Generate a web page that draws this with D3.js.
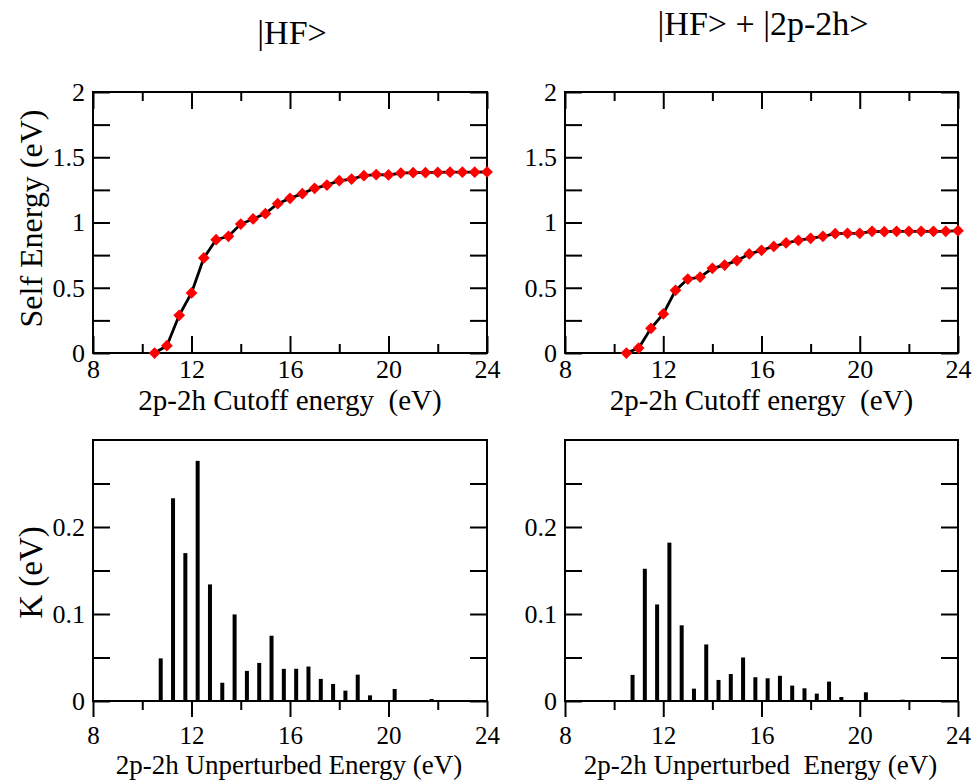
<!DOCTYPE html>
<html>
<head>
<meta charset="utf-8">
<script src="https://cdn.jsdelivr.net/npm/d3@7"></script>
<style>
  html, body { margin: 0; padding: 0; background: #fff; }
  svg { display: block; }
  svg text { font-family: "Liberation Serif", "Times New Roman", Times, "DejaVu Serif", serif !important; fill: #000; }
</style>
</head>
<body>
<svg id="chart" width="972" height="780" font-family="Liberation Serif, Times New Roman, serif"></svg>
<script>
// ---------------- data ----------------
const panelTitles = ["|HF>", "|HF> + |2p-2h>"];
const cutoffEnergy = [10.5, 11, 11.5, 12, 12.5, 13, 13.5, 14, 14.5, 15, 15.5, 16, 16.5, 17,
                      17.5, 18, 18.5, 19, 19.5, 20, 20.5, 21, 21.5, 22, 22.5, 23, 23.5, 24];
const selfEnergyHF = [0, 0.056, 0.289, 0.46, 0.728, 0.868, 0.894, 0.988, 1.027, 1.068, 1.144, 1.185,
                      1.221, 1.262, 1.287, 1.32, 1.333, 1.359, 1.367, 1.364, 1.379, 1.382, 1.382,
                      1.384, 1.386, 1.386, 1.386, 1.387];
const selfEnergyHF2p2h = [0, 0.038, 0.189, 0.299, 0.48, 0.567, 0.582, 0.649, 0.674, 0.708, 0.759, 0.787,
                          0.817, 0.843, 0.863, 0.879, 0.894, 0.914, 0.917, 0.917, 0.932, 0.930, 0.932,
                          0.932, 0.932, 0.932, 0.932, 0.937];
const unperturbedEnergy = [10.75, 11.25, 11.75, 12.25, 12.75, 13.25, 13.75, 14.25, 14.75, 15.25, 15.75, 16.25,
                           16.75, 17.25, 17.75, 18.25, 18.75, 19.25, 19.75, 20.25, 20.75, 21.25, 21.75, 22.25];
const kHF = [0.049, 0.233, 0.170, 0.276, 0.134, 0.021, 0.0995, 0.0346, 0.0438, 0.075, 0.037, 0.037,
             0.0396, 0.0254, 0.0196, 0.0119, 0.0303, 0.0065, 0, 0.0138, 0, 0, 0.0023, 0.0008];
const kHF2p2h = [0.030, 0.152, 0.111, 0.182, 0.087, 0.0142, 0.065, 0.0242, 0.031, 0.050, 0.0273, 0.0261,
                 0.029, 0.0177, 0.0146, 0.0085, 0.0223, 0.0046, 0, 0.0100, 0, 0, 0.0015, 0.0004];
const xMajorTicks = [8, 12, 16, 20, 24];
const xMinorTicks = [10, 14, 18, 22];
const seTicksMajor = [0, 0.5, 1, 1.5, 2];
const seTicksMinor = [0.25, 0.75, 1.25, 1.75];
const kTicksMajor = [0, 0.1, 0.2];
const kTicksMinor = [0.05, 0.15, 0.25];
const topXLabels = ["2p-2h Cutoff energy  (eV)", "2p-2h Cutoff energy  (eV)"];
const bottomXLabels = ["2p-2h Unperturbed Energy (eV)", "2p-2h Unperturbed  Energy (eV)"];
const topYLabel = "Self Energy (eV)";
const bottomYLabel = "K (eV)";

// ---------------- layout ----------------
const svg = d3.select("#chart");
const serif = "'Liberation Serif', 'Times New Roman', serif";
const cols = [{ x0: 93, x1: 487 }, { x0: 565, x1: 958 }];
const topRow = { y0: 92, y1: 353 };
const botRow = { y0: 440, y1: 701 };
const fmt = d => d3.format("")(d);

function styleAxis(g, fs) {
  g.attr("font-family", null).attr("font-size", null);
  g.selectAll("path.domain").remove();
  g.selectAll("line").attr("stroke", "#000").attr("stroke-width", 2);
  g.selectAll("text").style("font-size", (fs || 26) + "px").attr("fill", "#000").style("font-family", serif);
}

// ---- top panels: self energy ----
[selfEnergyHF, selfEnergyHF2p2h].forEach((series, i) => {
  const c = cols[i];
  const x = d3.scaleLinear().domain([8, 24]).range([c.x0, c.x1]);
  const y = d3.scaleLinear().domain([0, 2]).range([topRow.y1, topRow.y0]);
  const g = svg.append("g");

  g.append("g").attr("transform", `translate(0,${topRow.y1})`)
    .call(d3.axisBottom(x).tickValues(xMajorTicks).tickSize(-17).tickPadding(7).tickFormat(fmt)).call(styleAxis);
  g.append("g").attr("transform", `translate(0,${topRow.y1})`)
    .call(d3.axisBottom(x).tickValues(xMinorTicks).tickSize(-9).tickFormat("")).call(styleAxis);
  g.append("g").attr("transform", `translate(0,${topRow.y0})`)
    .call(d3.axisTop(x).tickValues(xMajorTicks).tickSize(-17).tickFormat("")).call(styleAxis);
  g.append("g").attr("transform", `translate(0,${topRow.y0})`)
    .call(d3.axisTop(x).tickValues(xMinorTicks).tickSize(-9).tickFormat("")).call(styleAxis);
  g.append("g").attr("transform", `translate(${c.x0},0)`)
    .call(d3.axisLeft(y).tickValues(seTicksMajor).tickSize(-17).tickPadding(8).tickFormat(fmt)).call(styleAxis);
  g.append("g").attr("transform", `translate(${c.x0},0)`)
    .call(d3.axisLeft(y).tickValues(seTicksMinor).tickSize(-17).tickFormat("")).call(styleAxis);
  g.append("g").attr("transform", `translate(${c.x1},0)`)
    .call(d3.axisRight(y).tickValues(seTicksMajor.concat(seTicksMinor)).tickSize(-17).tickFormat("")).call(styleAxis);

  g.append("rect").attr("x", c.x0).attr("y", topRow.y0)
    .attr("width", c.x1 - c.x0).attr("height", topRow.y1 - topRow.y0)
    .attr("fill", "none").attr("stroke", "#000").attr("stroke-width", 2);

  const pts = cutoffEnergy.map((e, j) => [e, series[j]]);
  g.append("path").datum(pts)
    .attr("d", d3.line().x(d => x(d[0])).y(d => y(d[1])))
    .attr("fill", "none").attr("stroke", "#000").attr("stroke-width", 2.8);
  g.selectAll("path.mk").data(pts).join("path").attr("class", "mk")
    .attr("d", d3.symbol(d3.symbolDiamond2, 88)())
    .attr("transform", d => `translate(${x(d[0])},${y(d[1])})`)
    .attr("fill", "#ff0000");

  g.append("text").attr("x", (c.x0 + c.x1) / 2).attr("y", 410)
    .attr("text-anchor", "middle").style("font-size", "29px").style("white-space", "pre")
    .text(topXLabels[i]);
});

// ---- bottom panels: K ----
[kHF, kHF2p2h].forEach((series, i) => {
  const c = cols[i];
  const x = d3.scaleLinear().domain([8, 24]).range([c.x0, c.x1]);
  const y = d3.scaleLinear().domain([0, 0.3]).range([botRow.y1, botRow.y0]);
  const g = svg.append("g");

  g.append("g").attr("transform", `translate(0,${botRow.y1})`)
    .call(d3.axisBottom(x).tickValues(xMajorTicks).tickSize(16).tickPadding(9).tickFormat(fmt))
    .call(s => styleAxis(s, 25));
  g.append("g").attr("transform", `translate(0,${botRow.y1})`)
    .call(d3.axisBottom(x).tickValues(xMinorTicks).tickSize(9).tickFormat("")).call(styleAxis);
  g.append("g").attr("transform", `translate(${c.x0},0)`)
    .call(d3.axisLeft(y).tickValues(kTicksMajor).tickSize(-17).tickPadding(8).tickFormat(fmt)).call(styleAxis);
  g.append("g").attr("transform", `translate(${c.x0},0)`)
    .call(d3.axisLeft(y).tickValues(kTicksMinor).tickSize(-17).tickFormat("")).call(styleAxis);
  g.append("g").attr("transform", `translate(${c.x1},0)`)
    .call(d3.axisRight(y).tickValues(kTicksMajor.concat(kTicksMinor)).tickSize(-17).tickFormat("")).call(styleAxis);

  g.append("rect").attr("x", c.x0).attr("y", botRow.y0)
    .attr("width", c.x1 - c.x0).attr("height", botRow.y1 - botRow.y0)
    .attr("fill", "none").attr("stroke", "#000").attr("stroke-width", 2);

  const bw = 4;
  g.selectAll("rect.bar").data(unperturbedEnergy.map((e, j) => [e, series[j]]).filter(d => d[1] > 0))
    .join("rect").attr("class", "bar")
    .attr("x", d => x(d[0]) - bw / 2).attr("width", bw)
    .attr("y", d => y(d[1])).attr("height", d => y(0) - y(d[1]))
    .attr("fill", "#000");

  g.append("text").attr("x", (c.x0 + c.x1) / 2 - 1).attr("y", 774)
    .attr("text-anchor", "middle").style("font-size", "27px").style("white-space", "pre")
    .text(bottomXLabels[i]);
});

// ---- y-axis titles ----
svg.append("text").attr("transform", `translate(42,${(topRow.y0 + topRow.y1) / 2 - 4}) rotate(-90)`)
  .attr("text-anchor", "middle").style("font-size", "32px").text(topYLabel);
svg.append("text").attr("transform", `translate(42,${(botRow.y0 + botRow.y1) / 2 + 2}) rotate(-90)`)
  .attr("text-anchor", "middle").style("font-size", "33px").text(bottomYLabel);

// ---- panel titles ----
svg.append("text").attr("x", 292).attr("y", 44).attr("text-anchor", "middle")
  .style("font-size", "34px").text(panelTitles[0]);
svg.append("text").attr("x", 763).attr("y", 35).attr("text-anchor", "middle")
  .style("font-size", "34px").text(panelTitles[1]);
</script>
</body>
</html>
